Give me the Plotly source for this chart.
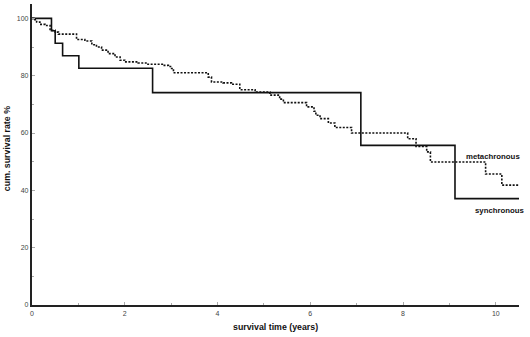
import plotly.graph_objects as go

# Synchronous group (solid): step times (years) and survival (%)
sync_t = [0, 0.42, 0.50, 0.66, 1.01, 2.60, 7.09, 9.12, 10.5]
sync_s = [100, 95.65, 91.30, 86.96, 82.61, 74.1, 55.7, 37.1, 37.1]

# Metachronous group (dotted)
meta_t = [0, 0.04, 0.10, 0.17, 0.28, 0.39, 0.50, 0.57, 0.96, 1.14, 1.29, 1.39,
          1.50, 1.64, 1.79, 1.90, 2.00, 2.29, 2.50, 2.83, 2.94, 3.01, 3.05,
          3.80, 3.87, 4.12, 4.30, 4.48, 4.81, 5.13, 5.34, 5.42, 5.92, 6.08,
          6.12, 6.21, 6.39, 6.53, 6.89, 8.10, 8.28, 8.51, 8.59, 9.78, 10.13, 10.5]
meta_s = [100, 99.5, 98.7, 97.9, 97.5, 95.8, 95.2, 94.5, 92.6, 92.1, 90.8, 90.0,
          88.9, 87.7, 86.5, 85.4, 84.8, 84.4, 84.0, 83.6, 83.2, 82.5, 81.0,
          79.5, 77.8, 77.5, 77.0, 75.1, 74.3, 73.2, 71.8, 70.6, 69.1, 67.6,
          66.2, 65.0, 63.5, 61.9, 60.0, 58.0, 55.3, 53.4, 49.9, 45.7, 41.8, 41.8]

x_ticks = [0, 2, 4, 6, 8, 10]
y_ticks = [0, 20, 40, 60, 80, 100]

FONT = "Liberation Sans, Arial, sans-serif"

fig = go.Figure()
fig.add_trace(go.Scatter(x=meta_t, y=meta_s, mode="lines", line_shape="hv",
                         line=dict(color="#111", width=1.6, dash="2px,1.5px"),
                         name="metachronous", showlegend=False))
fig.add_trace(go.Scatter(x=sync_t, y=sync_s, mode="lines", line_shape="hv",
                         line=dict(color="#111", width=1.6),
                         name="synchronous", showlegend=False))

axis_common = dict(showgrid=False, zeroline=False, showline=True,
                   linecolor="#222", linewidth=2.2, ticks="inside",
                   ticklen=3, tickcolor="#aaa", tickwidth=1,
                   tickfont=dict(family=FONT, size=7, color="#444"))

fig.update_xaxes(range=[0, 10.5], tickvals=x_ticks,
                 minor=dict(dtick=1, ticks="inside", ticklen=2, tickcolor="#aaa"),
                 **axis_common)
fig.update_yaxes(range=[0, 105], tickvals=y_ticks,
                 minor=dict(dtick=10, ticks="inside", ticklen=2, tickcolor="#aaa"),
                 **axis_common)

fig.add_annotation(text="<b>metachronous</b>", x=1.006, y=51.9, xref="paper", yref="y",
                   xanchor="right", yanchor="middle", showarrow=False,
                   font=dict(family=FONT, size=7.8, color="#111"))
fig.add_annotation(text="<b>synchronous</b>", x=1.016, y=32.8, xref="paper", yref="y",
                   xanchor="right", yanchor="middle", showarrow=False,
                   font=dict(family=FONT, size=7.8, color="#111"))

fig.add_annotation(text="<b>survival time (years)</b>", x=0.499, y=-0.073,
                   xref="paper", yref="paper", xanchor="center", yanchor="middle",
                   showarrow=False, font=dict(family=FONT, size=8.8, color="#111"))
fig.add_annotation(text="<b>cum. survival rate %</b>", x=-0.05, y=0.52,
                   xref="paper", yref="paper", xanchor="center", yanchor="middle",
                   textangle=-90, showarrow=False,
                   font=dict(family=FONT, size=8.8, color="#111"))

fig.update_layout(width=530, height=337, autosize=False,
                  margin=dict(l=32, r=11, t=4, b=32),
                  plot_bgcolor="white", paper_bgcolor="white",
                  showlegend=False)

fig.write_html("out.html", config={"displayModeBar": False},
               post_script="document.body.style.margin='0px';document.body.style.overflow='hidden';")
